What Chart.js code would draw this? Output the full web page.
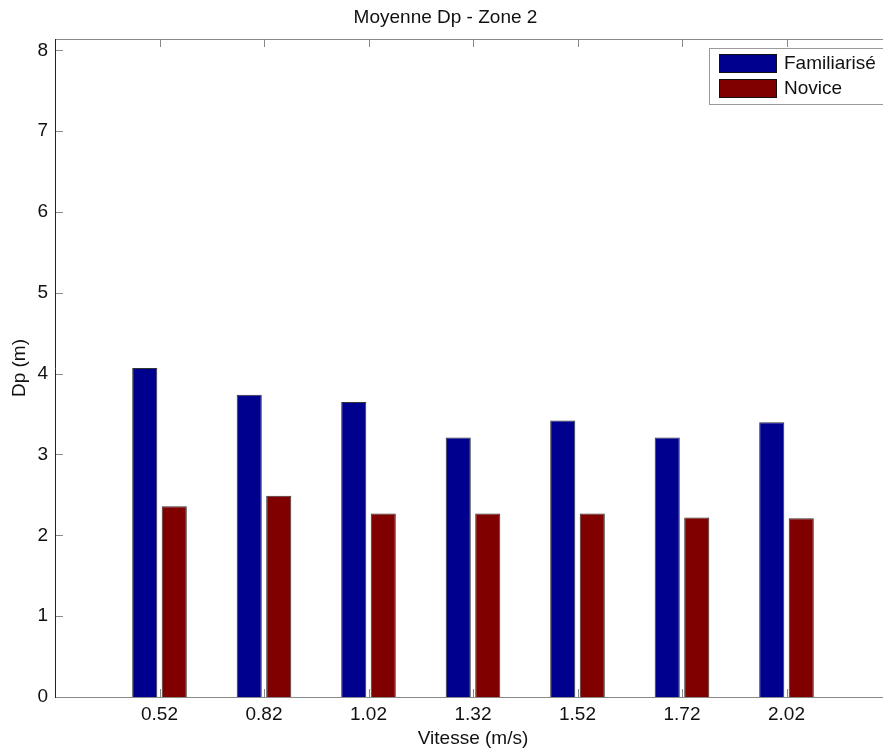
<!DOCTYPE html>
<html>
<head>
<meta charset="utf-8">
<script src="https://cdn.jsdelivr.net/npm/chart.js@4/dist/chart.umd.min.js"></script>
<style>
  body { margin: 0; background: #fff; }
  #wrap { width: 883px; height: 751px; overflow: hidden; }
</style>
</head>
<body>
<div id="wrap"><canvas id="dpChart" width="946" height="751"></canvas></div>
<script>
const vitesse = ['0.52', '0.82', '1.02', '1.32', '1.52', '1.72', '2.02'];
const familiarise = [4.07, 3.74, 3.65, 3.21, 3.42, 3.21, 3.40];
const novice = [2.36, 2.49, 2.27, 2.27, 2.27, 2.22, 2.21];
const yTicks = [0, 1, 2, 3, 4, 5, 6, 7, 8];

const FONT = "'Liberation Sans', Arial, sans-serif";

// empty slot on each side so the categories sit at 1..7 on a 0..8 axis
const labels = [''].concat(vitesse, ['']);
const pad = arr => [null].concat(arr, [null]);

// matlab style box with inward ticks + legend inside the axes
const matlabBox = {
    id: 'matlabBox',
    afterDatasetsDraw(chart) {
        const ctx = chart.ctx;
        const a = chart.chartArea;
        const sx = chart.scales.x, sy = chart.scales.y;
        const tl = 8;
        ctx.save();
        ctx.lineWidth = 1;

        ctx.strokeStyle = '#8a8a8a';
        ctx.beginPath();
        yTicks.forEach(v => {
            const y = Math.round(sy.getPixelForValue(v)) + 0.5;
            ctx.moveTo(a.left, y); ctx.lineTo(a.left + tl, y);
            ctx.moveTo(a.right, y); ctx.lineTo(a.right - tl, y);
        });
        labels.forEach((l, i) => {
            if (!l) return;
            const x = Math.round(sx.getPixelForTick(i)) + 0.5;
            ctx.moveTo(x, a.top); ctx.lineTo(x, a.top + tl);
            ctx.moveTo(x, a.bottom); ctx.lineTo(x, a.bottom - tl);
        });
        ctx.stroke();

        ctx.strokeStyle = '#8a8a8a';
        ctx.beginPath();
        ctx.moveTo(a.left, a.top + 0.5); ctx.lineTo(a.right, a.top + 0.5);
        ctx.moveTo(a.left, a.bottom + 0.5); ctx.lineTo(a.right, a.bottom + 0.5);
        ctx.moveTo(a.right - 0.5, a.top); ctx.lineTo(a.right - 0.5, a.bottom);
        ctx.stroke();
        ctx.strokeStyle = '#222';
        ctx.beginPath();
        ctx.moveTo(a.left + 0.5, a.top); ctx.lineTo(a.left + 0.5, a.bottom + 1);
        ctx.stroke();

        // legend
        const bx = a.right - 182, by = a.top + 9, bw = 175, bh = 56;
        ctx.fillStyle = '#fff';
        ctx.fillRect(bx, by, bw, bh);
        ctx.strokeStyle = '#9a9a9a';
        ctx.strokeRect(bx + 0.5, by + 0.5, bw, bh);
        ctx.font = '19px ' + FONT;
        ctx.textBaseline = 'middle';
        ctx.textAlign = 'left';
        chart.data.datasets.forEach((ds, i) => {
            const y = by + 6 + i * 25;
            ctx.fillStyle = ds.backgroundColor;
            ctx.fillRect(bx + 10, y, 58, 19);
            ctx.strokeStyle = '#111';
            ctx.strokeRect(bx + 10.5, y + 0.5, 57, 18);
            ctx.fillStyle = '#111';
            ctx.fillText(ds.label, bx + 75, y + 10);
        });
        ctx.restore();
    }
};

const chart = new Chart(document.getElementById('dpChart').getContext('2d'), {
    type: 'bar',
    data: {
        labels: labels,
        datasets: [{
            label: 'Familiarisé',
            data: pad(familiarise),
            backgroundColor: '#00008f',
            borderColor: '#333',
            borderWidth: 1,
            borderSkipped: 'start'
        }, {
            label: 'Novice',
            data: pad(novice),
            backgroundColor: '#800000',
            borderColor: '#333',
            borderWidth: 1,
            borderSkipped: 'start'
        }]
    },
    options: {
        responsive: false,
        animation: false,
        devicePixelRatio: 1,
        categoryPercentage: 0.565,
        barPercentage: 0.85,
        layout: { padding: { left: 0, right: 55, top: 0, bottom: 0 } },
        plugins: {
            legend: { display: false },
            tooltip: { enabled: false },
            title: {
                display: true,
                text: 'Moyenne Dp - Zone 2',
                color: '#111',
                font: { family: FONT, size: 19, weight: 'normal' },
                padding: { top: 6, bottom: 10.2 }
            }
        },
        scales: {
            x: {
                offset: false,
                grid: { display: false, drawTicks: false },
                border: { display: false },
                ticks: {
                    color: '#111',
                    font: { family: FONT, size: 19 },
                    autoSkip: false,
                    maxRotation: 0,
                    padding: 6
                },
                title: {
                    display: true,
                    text: 'Vitesse (m/s)',
                    color: '#111',
                    font: { family: FONT, size: 19 },
                    padding: { top: 0, bottom: 1 }
                },
                afterFit: s => { s.height = 54; }
            },
            y: {
                min: 0,
                max: 8.14,
                grid: { display: false, drawTicks: false },
                border: { display: false },
                ticks: {
                    stepSize: 1,
                    includeBounds: false,
                    color: '#111',
                    font: { family: FONT, size: 19 },
                    padding: 7
                },
                title: {
                    display: true,
                    text: 'Dp (m)',
                    color: '#111',
                    font: { family: FONT, size: 19 },
                    padding: { top: 8, bottom: 0 }
                },
                afterFit: s => { s.width = 55; }
            }
        }
    },
    plugins: [matlabBox]
});
</script>
</body>
</html>
